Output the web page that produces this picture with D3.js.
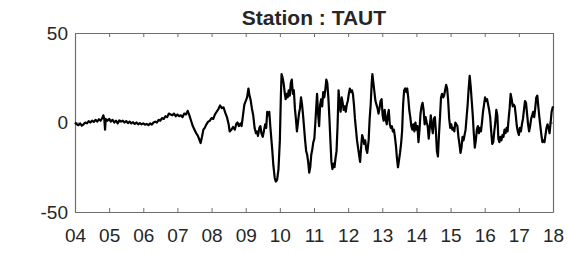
<!DOCTYPE html>
<html>
<head>
<meta charset="utf-8">
<script src="https://cdn.jsdelivr.net/npm/d3@7"></script>
<style>
  body { margin: 0; background: #fff; }
  text { font-family: Arial, "Liberation Sans", sans-serif; fill: #262626; }
</style>
</head>
<body>
<div id="chart"></div>
<script>
// Station title and axis ticks
const stationName = "TAUT";
const xTicks = [4, 5, 6, 7, 8, 9, 10, 11, 12, 13, 14, 15, 16, 17, 18];
const yTicks = [-50, 0, 50];

// Time in years (20xx)
const years = [
  4.00, 4.05, 4.10, 4.15, 4.20, 4.25, 4.30, 4.35, 4.40, 4.45, 4.50, 4.55, 4.60, 4.65, 4.70, 4.75,
  4.80, 4.83, 4.86, 4.88, 4.90, 4.95, 5.00, 5.05, 5.10, 5.15, 5.20, 5.25, 5.30, 5.35, 5.40, 5.45,
  5.50, 5.55, 5.60, 5.65, 5.70, 5.75, 5.80, 5.85, 5.90, 5.95, 6.00, 6.05, 6.10, 6.15, 6.20, 6.25,
  6.30, 6.35, 6.40, 6.45, 6.50, 6.55, 6.60, 6.65, 6.70, 6.75, 6.80, 6.85, 6.90, 6.95, 7.00, 7.05,
  7.10, 7.15, 7.20, 7.25, 7.30, 7.35, 7.40, 7.45, 7.50, 7.55, 7.60, 7.65, 7.68, 7.72, 7.76, 7.80,
  7.85, 7.90, 7.95, 8.00, 8.05, 8.10, 8.15, 8.20, 8.25, 8.30, 8.35, 8.40, 8.45, 8.50, 8.53, 8.58,
  8.63, 8.68, 8.72, 8.76, 8.80, 8.85, 8.88, 8.92, 8.96, 9.00, 9.04, 9.08, 9.11, 9.14, 9.18, 9.22,
  9.26, 9.30, 9.33, 9.36, 9.40, 9.43, 9.46, 9.50, 9.54, 9.57, 9.60, 9.63, 9.66, 9.69, 9.72, 9.75,
  9.78, 9.81, 9.85, 9.88, 9.92, 9.96, 10.00, 10.03, 10.05, 10.08, 10.11, 10.14, 10.17, 10.20, 10.23, 10.26,
  10.29, 10.32, 10.35, 10.38, 10.41, 10.44, 10.47, 10.50, 10.53, 10.56, 10.59, 10.62, 10.65, 10.68, 10.71, 10.74,
  10.77, 10.80, 10.83, 10.86, 10.89, 10.92, 10.95, 10.98, 11.01, 11.04, 11.07, 11.09, 11.12, 11.15, 11.18, 11.21,
  11.24, 11.27, 11.30, 11.33, 11.36, 11.39, 11.42, 11.45, 11.48, 11.51, 11.54, 11.57, 11.60, 11.63, 11.66, 11.69,
  11.72, 11.75, 11.78, 11.81, 11.84, 11.87, 11.90, 11.93, 11.96, 11.99, 12.02, 12.05, 12.08, 12.11, 12.14, 12.17,
  12.20, 12.23, 12.26, 12.29, 12.32, 12.35, 12.38, 12.41, 12.44, 12.47, 12.50, 12.53, 12.56, 12.60, 12.63, 12.66,
  12.69, 12.71, 12.74, 12.77, 12.80, 12.83, 12.86, 12.89, 12.92, 12.95, 12.98, 13.01, 13.04, 13.07, 13.10, 13.13,
  13.16, 13.19, 13.22, 13.25, 13.28, 13.31, 13.34, 13.37, 13.40, 13.43, 13.46, 13.49, 13.52, 13.55, 13.58, 13.61,
  13.64, 13.67, 13.70, 13.73, 13.76, 13.79, 13.82, 13.85, 13.88, 13.91, 13.94, 13.97, 14.00, 14.03, 14.06, 14.09,
  14.12, 14.15, 14.18, 14.21, 14.24, 14.27, 14.30, 14.33, 14.36, 14.39, 14.42, 14.45, 14.48, 14.51, 14.54, 14.57,
  14.60, 14.63, 14.66, 14.69, 14.72, 14.75, 14.78, 14.81, 14.84, 14.87, 14.90, 14.93, 14.96, 14.99, 15.02, 15.05,
  15.08, 15.11, 15.14, 15.17, 15.20, 15.23, 15.26, 15.29, 15.32, 15.35, 15.38, 15.41, 15.44, 15.47, 15.50, 15.53,
  15.56, 15.59, 15.62, 15.65, 15.68, 15.71, 15.74, 15.77, 15.80, 15.83, 15.86, 15.89, 15.92, 15.95, 15.98, 16.01,
  16.04, 16.07, 16.10, 16.13, 16.16, 16.19, 16.22, 16.25, 16.28, 16.31, 16.34, 16.37, 16.40, 16.43, 16.46, 16.49,
  16.52, 16.55, 16.58, 16.61, 16.64, 16.67, 16.70, 16.73, 16.76, 16.79, 16.82, 16.85, 16.88, 16.91, 16.94, 16.97,
  17.00, 17.03, 17.06, 17.09, 17.12, 17.15, 17.18, 17.21, 17.24, 17.27, 17.30, 17.33, 17.36, 17.39, 17.42, 17.45,
  17.48, 17.51, 17.54, 17.57, 17.60, 17.63, 17.66, 17.69, 17.72, 17.75, 17.78, 17.81, 17.84, 17.87, 17.90, 17.93,
  17.96, 18.00
];

// Displacement values
const values = [
  0, -1, -1.5, -0.5, -1.8, -1, 0, -0.5, 0.8, 0, 1, 0.3, 1.5, 0.5, 1.8, 1,
  2.5, 4, 1.5, -4, 2, 1, 2, 0.5, 1.5, 0, 1, -0.5, 1.2, 0.5, 1, 0,
  0.8, -0.3, 0.5, -0.5, 0.2, -0.8, 0, -1, -0.3, -1, -0.5, -1.2, -0.8, -1.5, -0.5, -1.2,
  0, 0.5, 0, 1.5, 1, 2.5, 2, 3.5, 3, 5, 4.5, 4, 5, 3.5, 4.5, 3.5,
  4, 3, 5, 4.5, 6.5, 4, 1, -2, -4, -6, -7.5, -10, -11.5, -8, -4, -3,
  -1, 0.5, 1, 2.5, 2, 4.5, 6, 7.5, 9.5, 8, 8.5, 5.5, 3, -1, -5, -4,
  -2.5, -4, -1, 0, -2, -0.5, -2, 4, 10, 12, 14, 19, 15, 13, 8, 4,
  -3, -6, -5, -7.5, -3, -2, -6, -8, -4, -1, -3, 6, 4, 6, -2, -9,
  -16, -24, -31, -33, -32, -26, -10, 15, 27, 25, 22, 17, 13, 16, 14, 18,
  15, 22, 24, 16, 18, 8, 2, -5, 0, 5, 8, 14, 10, 4, -3, -10,
  -16, -18, -22, -28, -25, -18, -15, -11, -9, 0, 10, 16, 5, -2, 10, 13,
  9, 17, 14, 18, 24, 22, 14, 3, -10, -22, -26, -23, -25, -20, -16, -2,
  18, 10, 6, 14, 11, 7, 9, 6, 10, 12, 16, 19, 17, 18, 16, 10,
  2, -4, -10, -14, -18, -22, -14, -7, -9, -12, -10, -15, -17, -10, 2, 10,
  22, 27, 22, 17, 12, 10, 8, 5, 8, 12, 13, 4, 1, 7, 2, -1,
  4, 7, -1, -3, -2, -5, -4, -8, -13, -20, -25, -21, -17, -12, -5, 10,
  18, 19, 17, 19, 14, 7, 3, -2, -4, -1, -5, 0, -4, -2, -11, -4,
  5, 9, 11, 7, -1, 3, 0, -2, -9, -3, 4, -2, -6, 2, 3, -5,
  -16, -19, -7, 3, 14, 16, 14, 15, 18, 21, 19, 12, 2, -3, -1, -4,
  -3, -5, 0, -1, -2, -8, -12, -17, -14, -8, -10, -7, -4, 3, 10, 19,
  26, 20, 12, 4, -6, -14, -10, -4, -2, -6, -3, -5, 0, 6, 10, 14,
  12, 13, 10, 7, 3, -5, -12, -11, -5, 0, 7, 4, -9, -11, -8, -10,
  -7, -8, -4, -6, -3, -5, 2, 8, 16, 13, 9, 10, 9, 4, -2, -5,
  -7, -3, -5, -1, 2, 7, 12, 11, 5, -1, -5, -2, 2, 4, 6, 3,
  8, 14, 15, 9, 3, -2, -7, -11, -10, -11, -7, -3, -1, -3, -6, 0,
  6, 9
];

const data = years.map((t, i) => ({ t: t, v: values[i] }));

// Set the dimensions and margins of the graph
const margin = { top: 33, right: 14, bottom: 41, left: 75 };
const width = 567 - margin.left - margin.right;
const height = 253 - margin.top - margin.bottom;

const svg = d3.select("#chart")
  .append("svg")
  .attr("width", 567)
  .attr("height", 253)
  .append("g")
  .attr("transform", `translate(${margin.left},${margin.top})`);

const x = d3.scaleLinear().domain([4, 18]).range([0, width]);
const y = d3.scaleLinear().domain([-50, 50]).range([height, 0]);

const fmtYear = d => String(d).padStart(2, "0");

// Bottom axis with inward ticks
const xAxis = svg.append("g")
  .attr("transform", `translate(0,${height})`)
  .call(d3.axisBottom(x).tickValues(xTicks).tickFormat(fmtYear).tickSizeInner(-4).tickSizeOuter(0).tickPadding(17));

// Top axis (ticks only)
const xTop = svg.append("g")
  .call(d3.axisTop(x).tickValues(xTicks).tickFormat("").tickSizeInner(-4).tickSizeOuter(0));

// Left axis, plain hyphen minus like the original
const yAxis = svg.append("g")
  .call(d3.axisLeft(y).tickValues(yTicks).tickFormat(d => String(d)).tickSizeInner(-4).tickSizeOuter(0).tickPadding(7));

// Right axis (ticks only)
const yRight = svg.append("g")
  .attr("transform", `translate(${width},0)`)
  .call(d3.axisRight(y).tickValues(yTicks).tickFormat("").tickSizeInner(-4).tickSizeOuter(0));

[xAxis, xTop, yAxis, yRight].forEach(g => {
  g.selectAll("path.domain").attr("stroke", "#6e6e6e").attr("stroke-width", 1.2);
  g.selectAll(".tick line").attr("stroke", "#6e6e6e");
  g.selectAll("text").attr("font-size", 19).attr("fill", "#262626")
    .attr("font-family", "Arial, 'Liberation Sans', sans-serif");
});

// Series line
svg.append("path")
  .datum(data)
  .attr("fill", "none")
  .attr("stroke", "#000")
  .attr("stroke-width", 2.2)
  .attr("stroke-linejoin", "round")
  .attr("d", d3.line().x(d => x(d.t)).y(d => y(d.v)));

// Title
svg.append("text")
  .attr("x", width / 2)
  .attr("y", -8)
  .attr("text-anchor", "middle")
  .attr("font-size", 21)
  .attr("font-weight", "bold")
  .attr("fill", "#000")
  .text("Station : " + stationName);
</script>
</body>
</html>
